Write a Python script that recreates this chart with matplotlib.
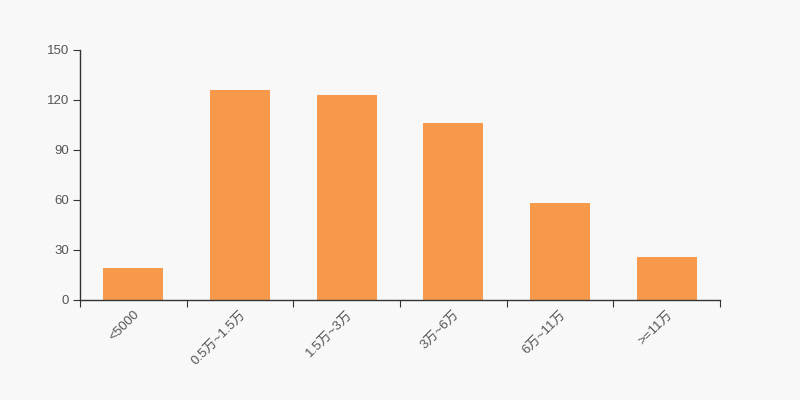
import numpy as np
import matplotlib.pyplot as plt

plt.rcParams['font.family'] = ['Liberation Sans', 'Noto Sans CJK SC', 'DejaVu Sans']

categories = ['<5000', '0.5万~1.5万', '1.5万~3万', '3万~6万', '6万~11万', '>=11万']
values = [19, 126, 123, 106, 58, 26]
yticks = [0, 30, 60, 90, 120, 150]

bg = '#f8f8f8'
txt = '#555555'
fig = plt.figure(figsize=(8, 4), dpi=100, facecolor=bg)
ax = fig.add_axes([0.1, 0.25, 0.8, 0.625], facecolor=bg)

x = np.arange(len(categories))
ax.bar(x, values, width=0.56, color='#f7994a')

ax.set_xlim(-0.5, len(categories) - 0.5)
ax.set_ylim(0, 150)
ax.set_yticks(yticks)
ax.set_yticklabels([str(v) for v in yticks], fontsize=9.5, color=txt)

# category labels at the centre, tick marks at the boundaries
ax.set_xticks(np.arange(-0.5, len(categories), 1.0))
ax.set_xticklabels([])
ax.set_xticks(x, minor=True)
ax.set_xticklabels(categories, minor=True, rotation=45, ha='right',
                   rotation_mode='anchor', fontsize=9.5, color=txt)
ax.tick_params(axis='x', which='minor', length=0, pad=6)
ax.tick_params(axis='x', which='major', length=5, color='#333333')
ax.tick_params(axis='y', length=5, color='#333333', pad=3)

for s in ['top', 'right']:
    ax.spines[s].set_visible(False)
for s in ['left', 'bottom']:
    ax.spines[s].set_color('#333333')
    ax.spines[s].set_linewidth(1)

fig.savefig('out.png', dpi=100, facecolor=bg)
